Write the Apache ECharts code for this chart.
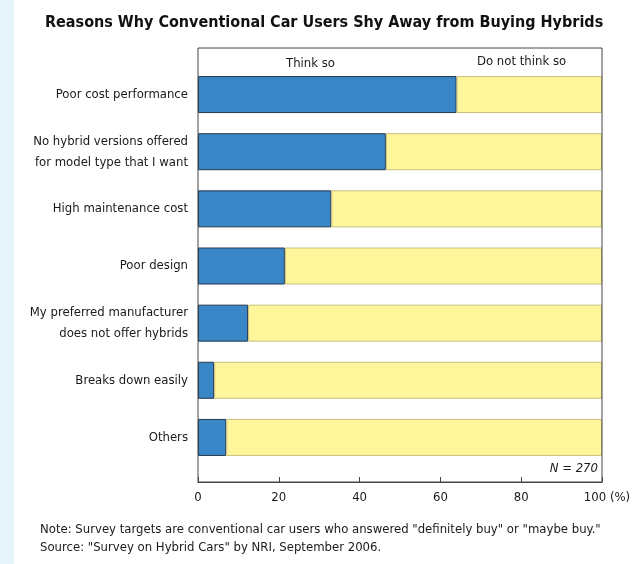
<!DOCTYPE html>
<html>
<head>
<meta charset="utf-8">
<script src="https://cdn.jsdelivr.net/npm/echarts@6/dist/echarts.min.js"></script>
<style>html,body{margin:0;padding:0;background:#fff;}#c{width:644px;height:564px;}</style>
</head>
<body>
<div id="c"></div>
<script>
const categories = [
  'Poor cost performance',
  'No hybrid versions offered\nfor model type that I want',
  'High maintenance cost',
  'Poor design',
  'My preferred manufacturer\ndoes not offer hybrids',
  'Breaks down easily',
  'Others'
];
const seriesNames = ['Think so', 'Do not think so'];
const thinkSo = [64, 46.5, 33, 21.5, 12.4, 4, 7];
const notThinkSo = thinkSo.map(v => +(100 - v).toFixed(1));
const xTicks = [0, 20, 40, 60, 80, 100];
const titleText = 'Reasons Why Conventional Car Users Shy Away from Buying Hybrids';
const sampleText = 'N = 270';
const noteLines = [
  'Note: Survey targets are conventional car users who answered "definitely buy" or "maybe buy."',
  'Source: "Survey on Hybrid Cars" by NRI, September 2006.'
];

const FONT = "'Liberation Sans Narrow', 'DejaVu Sans Condensed', 'Liberation Sans', sans-serif";
const chart = echarts.init(document.getElementById('c'), null, {renderer: 'canvas'});
chart.setOption({
  backgroundColor: '#ffffff',
  animation: false,
  textStyle: {fontFamily: FONT, color: '#1a1a1a'},
  title: {
    text: titleText, left: 40, top: 10,
    textStyle: {fontFamily: FONT, fontSize: 16, fontWeight: 'bold', color: '#111'}
  },
  graphic: [
    {type: 'rect', left: 0, top: 0, shape: {width: 14, height: 564}, style: {fill: '#e6f5f9'}, z: -10},
    {type: 'text', left: 286, top: 57, style: {text: seriesNames[0], font: '13px ' + FONT, fill: '#1a1a1a'}},
    {type: 'text', left: 477, top: 55, style: {text: seriesNames[1], font: '13px ' + FONT, fill: '#1a1a1a'}},
    {type: 'text', right: 46, top: 462, style: {text: sampleText, font: 'italic 13px ' + FONT, fill: '#1a1a1a'}},
    {type: 'text', left: 40, top: 523, style: {text: noteLines[0], font: '13px ' + FONT, fill: '#1a1a1a'}},
    {type: 'text', left: 40, top: 541, style: {text: noteLines[1], font: '13px ' + FONT, fill: '#1a1a1a'}}
  ],
  grid: [
    {left: 198, right: 42, top: 66, bottom: 98, containLabel: false},
    {left: 198, right: 42, top: 48, bottom: 82, show: true, borderColor: '#444', borderWidth: 1, backgroundColor: 'transparent', z: 5}
  ],
  xAxis: [
    {gridIndex: 0, type: 'value', min: 0, max: 100, show: false},
    {gridIndex: 1, type: 'value', min: 0, max: 100, interval: 20,
     axisLine: {show: true, lineStyle: {color: '#444', width: 1}},
     axisTick: {show: true, inside: true, length: 5, lineStyle: {color: '#444'}},
     splitLine: {show: false},
     axisLabel: {color: '#1a1a1a', fontSize: 13, fontFamily: FONT, margin: 9,
       formatter: v => v === 100 ? '{p|100 (%)}' : String(v),
       rich: {p: {fontSize: 13, fontFamily: FONT, color: '#1a1a1a', padding: [0, 0, 0, 10]}}}
    }
  ],
  yAxis: [
    {gridIndex: 0, type: 'category', data: categories, inverse: true,
     axisLine: {show: false}, axisTick: {show: false},
     axisLabel: {color: '#1a1a1a', fontSize: 13, fontFamily: FONT, margin: 10, lineHeight: 21, align: 'right'}
    },
    {gridIndex: 1, type: 'value', min: 0, max: 1, show: false}
  ],
  series: [
    {name: seriesNames[0], type: 'bar', stack: 's', xAxisIndex: 0, yAxisIndex: 0, barWidth: 37,
     data: thinkSo, itemStyle: {color: '#3a87c8', borderColor: '#23364d', borderWidth: 1}},
    {name: seriesNames[1], type: 'bar', stack: 's', xAxisIndex: 0, yAxisIndex: 0, barWidth: 37,
     data: notThinkSo, itemStyle: {color: '#fff59a', borderColor: '#c9c07e', borderWidth: 1}}
  ]
});
</script>
</body>
</html>
